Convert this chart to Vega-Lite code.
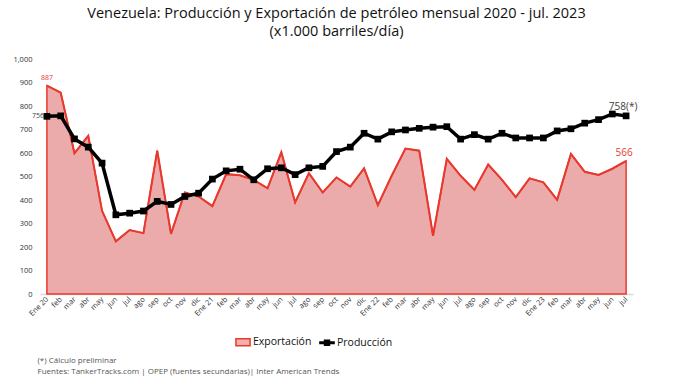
{
  "$schema": "https://vega.github.io/schema/vega-lite/v6.json",
  "autosize": {"type": "none"},
  "width": 593,
  "height": 235,
  "padding": {"left": 40, "top": 59, "right": 57, "bottom": 92},
  "background": "white",
  "config": {
    "view": {"stroke": null}, "font": "Open Sans",
    "axis": {"labelOverlap": false},
    "axisY": {"tickCount": 10, "labelOverlap": false, "format": ",d", "labelFontSize": 7.5, "labelColor": "#333",
      "grid": false, "domain": false, "ticks": false, "labelPadding": 8, "title": null}
  },
  "title": {
    "text": ["Venezuela: Producción y Exportación de petróleo mensual 2020 - jul. 2023", "(x1.000 barriles/día)"],
    "fontSize": 14.5, "fontWeight": "normal", "color": "#111", "anchor": "middle", "offset": 16, "lineHeight": 18
  },
  "data": {"values": [
    {"m": "Ene 20", "exp": 887, "prod": 756},
    {"m": "feb 20", "exp": 857, "prod": 758},
    {"m": "mar 20", "exp": 599, "prod": 660},
    {"m": "abr 20", "exp": 673, "prod": 625},
    {"m": "may 20", "exp": 354, "prod": 557},
    {"m": "jun 20", "exp": 224, "prod": 337},
    {"m": "jul 20", "exp": 272, "prod": 344},
    {"m": "ago 20", "exp": 259, "prod": 353},
    {"m": "sep 20", "exp": 610, "prod": 394},
    {"m": "oct 20", "exp": 256, "prod": 381},
    {"m": "nov 20", "exp": 432, "prod": 415},
    {"m": "dic 20", "exp": 415, "prod": 429},
    {"m": "Ene 21", "exp": 374, "prod": 489},
    {"m": "feb 21", "exp": 510, "prod": 524},
    {"m": "mar 21", "exp": 505, "prod": 531},
    {"m": "abr 21", "exp": 485, "prod": 486},
    {"m": "may 21", "exp": 450, "prod": 533},
    {"m": "jun 21", "exp": 603, "prod": 537},
    {"m": "jul 21", "exp": 390, "prod": 508},
    {"m": "ago 21", "exp": 514, "prod": 537},
    {"m": "sep 21", "exp": 432, "prod": 543},
    {"m": "oct 21", "exp": 496, "prod": 606},
    {"m": "nov 21", "exp": 457, "prod": 625},
    {"m": "dic 21", "exp": 535, "prod": 684},
    {"m": "Ene 22", "exp": 378, "prod": 659},
    {"m": "feb 22", "exp": 503, "prod": 690},
    {"m": "mar 22", "exp": 619, "prod": 698},
    {"m": "abr 22", "exp": 610, "prod": 705},
    {"m": "may 22", "exp": 248, "prod": 710},
    {"m": "jun 22", "exp": 575, "prod": 712},
    {"m": "jul 22", "exp": 503, "prod": 659},
    {"m": "ago 22", "exp": 443, "prod": 678},
    {"m": "sep 22", "exp": 551, "prod": 659},
    {"m": "oct 22", "exp": 486, "prod": 684},
    {"m": "nov 22", "exp": 412, "prod": 664},
    {"m": "dic 22", "exp": 492, "prod": 664},
    {"m": "Ene 23", "exp": 475, "prod": 664},
    {"m": "feb 23", "exp": 401, "prod": 694},
    {"m": "mar 23", "exp": 596, "prod": 703},
    {"m": "abr 23", "exp": 520, "prod": 727},
    {"m": "may 23", "exp": 507, "prod": 742},
    {"m": "jun 23", "exp": 533, "prod": 766},
    {"m": "jul 23", "exp": 566, "prod": 758}
  ]},
  "encoding": {
    "x": {
      "field": "m", "type": "ordinal", "sort": null,
      "scale": {"type": "point", "padding": 0.5},
      "axis": {
        "labelAngle": -45, "labelAlign": "right", "labelBaseline": "middle",
        "labelFontSize": 7.5, "labelColor": "#333", "labelPadding": 4,
        "ticks": false, "domainColor": "#d9d9d9", "domainWidth": 1.5,
        "labelExpr": "indexof(datum.value, 'Ene') === 0 ? datum.value : split(datum.value, ' ')[0]",
        "title": ["(*) Cálculo preliminar", "Fuentes: TankerTracks.com | OPEP (fuentes secundarias)| Inter American Trends"],
        "titleFontSize": 8, "titleFontWeight": "normal", "titleColor": "#555",
        "titleAlign": "left", "titleAnchor": "start", "titleBaseline": "top",
        "titleX": -3, "titleY": 62, "titleLineHeight": 11
      }
    }
  },
  "layer": [
    {
      "mark": {"type": "area", "fill": "#ecabab", "stroke": "#e8392f", "strokeWidth": 1.5},
      "encoding": {
        "y": {
          "field": "exp", "type": "quantitative",
          "scale": {"domain": [0, 1000], "nice": false},
          "axis": {"tickCount": 10, "labelOverlap": false, "title": null}
        }
      }
    },
    {
      "mark": {"type": "line", "strokeWidth": 2},
      "encoding": {
        "y": {"field": "exp", "type": "quantitative"},
        "color": {
          "datum": "Exportación",
          "scale": {"domain": ["Exportación", "Producción"], "range": ["#e8392f", "#000000"]},
          "legend": {
            "orient": "none", "legendX": 195, "legendY": 275, "direction": "horizontal",
            "title": null, "labelFontSize": 10.5, "labelColor": "#111", "symbolSize": 200,
            "columnPadding": 4, "labelOffset": 2,
            "encode": {
              "symbols": {
                "update": {
                  "shape": {"signal": "datum.value === 'Exportación' ? 'M-1,-0.5H1V0.5H-1Z' : 'M-1,-0.1H-0.35V-0.35H0.35V-0.1H1V0.1H0.35V0.35H-0.35V0.1H-1Z'"},
                  "fill": {"signal": "datum.value === 'Exportación' ? '#ecabab' : '#000000'"},
                  "fillOpacity": {"signal": "datum.value === 'Exportación' ? 0.4 : 1"},
                  "stroke": {"signal": "datum.value === 'Exportación' ? '#e8392f' : '#000000'"},
                  "strokeOpacity": {"value": 1},
                  "strokeWidth": {"value": 1.5}
                }
              }
            }
          }
        }
      }
    },
    {
      "mark": {"type": "line", "strokeWidth": 3.5, "point": {"shape": "square", "size": 45, "filled": true, "color": "#000000"}},
      "encoding": {
        "y": {"field": "prod", "type": "quantitative"},
        "color": {"datum": "Producción"}
      }
    },
    {
      "transform": [{"filter": "datum.m === 'Ene 20'"}],
      "mark": {"type": "text", "fontSize": 7, "color": "#e8392f", "dy": -8},
      "encoding": {"y": {"field": "exp", "type": "quantitative"}, "text": {"field": "exp"}}
    },
    {
      "transform": [{"filter": "datum.m === 'Ene 20'"}],
      "mark": {"type": "text", "fontSize": 7, "color": "#404040", "align": "right", "dx": -3},
      "encoding": {"y": {"field": "prod", "type": "quantitative"}, "text": {"field": "prod"}}
    },
    {
      "transform": [{"filter": "datum.m === 'jul 23'"}],
      "mark": {"type": "text", "fontSize": 10, "color": "#e8392f", "dy": -8, "dx": -2},
      "encoding": {"y": {"field": "exp", "type": "quantitative"}, "text": {"field": "exp"}}
    },
    {
      "transform": [{"filter": "datum.m === 'jul 23'"}],
      "mark": {"type": "text", "fontSize": 10, "color": "#404040", "dy": -9, "dx": -3},
      "encoding": {"y": {"field": "prod", "type": "quantitative"}, "text": {"value": "758(*)"}}
    }
  ]
}
